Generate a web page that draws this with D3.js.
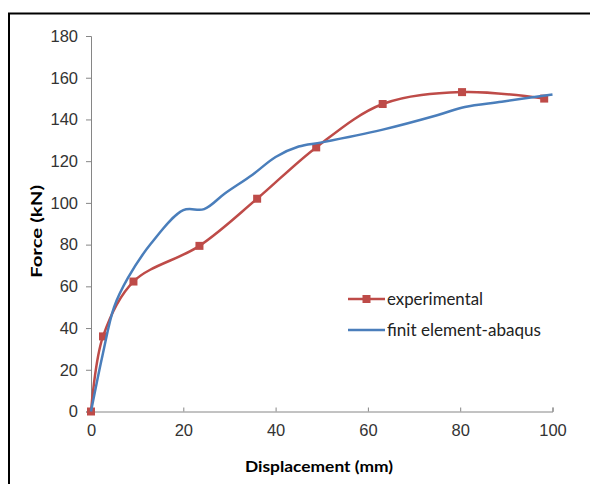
<!DOCTYPE html>
<html>
<head>
<meta charset="utf-8">
<script src="https://cdn.jsdelivr.net/npm/d3@7.9.0/dist/d3.min.js"></script>
<style>
  body { margin: 0; background: #fff; }
  svg { display: block; font-family: Lato, "Open Sans", sans-serif; }
</style>
</head>
<body>
<svg id="chart" width="590" height="484"></svg>
<script>
// experimental test points (displacement mm, force kN)
const expDisp = [0, 2.6, 9.2, 23.5, 36, 48.8, 63.2, 80.4, 98.2];
const expForce = [0, 36, 62.3, 79.4, 102, 126.6, 147.4, 153.1, 150];

// finite element (abaqus) curve
const feDisp = [0, 2.5, 5, 8, 13, 20, 24.5, 29, 35, 40, 45, 50, 63, 75, 81, 89, 100];
const feForce = [0, 27, 50, 64, 80.5, 96.5, 97, 104.5, 113.5, 122, 127, 129, 135, 142, 146, 148.5, 152];

const xTicks = [0, 20, 40, 60, 80, 100];
const yTicks = [0, 20, 40, 60, 80, 100, 120, 140, 160, 180];

const svg = d3.select('#chart');

// outer frame
svg.append('path')
  .attr('d', 'M9,484 V13.5 H590')
  .attr('fill', 'none')
  .attr('stroke', '#000')
  .attr('stroke-width', 2);

const x = d3.scaleLinear().domain([0, 100]).range([91, 552.5]);
const y = d3.scaleLinear().domain([0, 180]).range([411.5, 36]);

// y axis
const yAxis = svg.append('g')
  .attr('transform', `translate(${x(0)},0)`)
  .call(d3.axisLeft(y).tickValues(yTicks).tickSize(5).tickPadding(8));
yAxis.select('.domain').attr('stroke', '#868686');
yAxis.selectAll('.tick line').attr('stroke', '#868686');
yAxis.selectAll('text').attr('font-size', 16.5).attr('fill', '#333');

// x axis (ticks pointing inward)
const xAxis = svg.append('g')
  .attr('transform', `translate(0,${y(0)})`)
  .call(d3.axisBottom(x).tickValues(xTicks).tickSize(-4).tickPadding(13));
xAxis.select('.domain').attr('stroke', '#868686');
xAxis.selectAll('.tick line').attr('stroke', '#868686');
xAxis.selectAll('text').attr('font-size', 16.5).attr('fill', '#333');

// axis titles
svg.append('text')
  .attr('x', 245).attr('y', 472)
  .attr('font-size', 16).attr('font-weight', 'bold')
  .attr('textLength', 148).attr('lengthAdjust', 'spacingAndGlyphs')
  .text('Displacement (mm)');

svg.append('text')
  .attr('transform', 'translate(42,278) rotate(-90)')
  .attr('font-size', 16).attr('font-weight', 'bold')
  .attr('textLength', 93).attr('lengthAdjust', 'spacingAndGlyphs')
  .text('Force (kN)');

const line = d3.line()
  .x(d => x(d[0]))
  .y(d => y(d[1]))
  .curve(d3.curveCatmullRom.alpha(0.5));

const feData = feDisp.map((d, i) => [d, feForce[i]]);
const expData = expDisp.map((d, i) => [d, expForce[i]]);

svg.append('path')
  .datum(expData)
  .attr('d', line)
  .attr('fill', 'none')
  .attr('stroke', '#BE4B48')
  .attr('stroke-width', 2.5);

svg.selectAll('.marker')
  .data(expData)
  .enter()
  .append('rect')
  .attr('class', 'marker')
  .attr('x', d => x(d[0]) - 4)
  .attr('y', d => y(d[1]) - 4)
  .attr('width', 8)
  .attr('height', 8)
  .attr('fill', '#BE4B48');

svg.append('path')
  .datum(feData)
  .attr('d', line)
  .attr('fill', 'none')
  .attr('stroke', '#4A7EBB')
  .attr('stroke-width', 2.5);

// legend
const legend = svg.append('g');
legend.append('line')
  .attr('x1', 348).attr('x2', 385).attr('y1', 299).attr('y2', 299)
  .attr('stroke', '#BE4B48').attr('stroke-width', 2.5);
legend.append('rect')
  .attr('x', 362.5).attr('y', 295).attr('width', 8).attr('height', 8)
  .attr('fill', '#BE4B48');
legend.append('text')
  .attr('x', 387).attr('y', 304.5)
  .attr('font-size', 16.5).attr('fill', '#222')
  .attr('textLength', 96).attr('lengthAdjust', 'spacingAndGlyphs')
  .text('experimental');

legend.append('line')
  .attr('x1', 348).attr('x2', 385).attr('y1', 330).attr('y2', 330)
  .attr('stroke', '#4A7EBB').attr('stroke-width', 2.5);
legend.append('text')
  .attr('x', 387).attr('y', 335.5)
  .attr('font-size', 16.5).attr('fill', '#222')
  .attr('textLength', 154).attr('lengthAdjust', 'spacingAndGlyphs')
  .text('finit element-abaqus');
</script>
</body>
</html>
